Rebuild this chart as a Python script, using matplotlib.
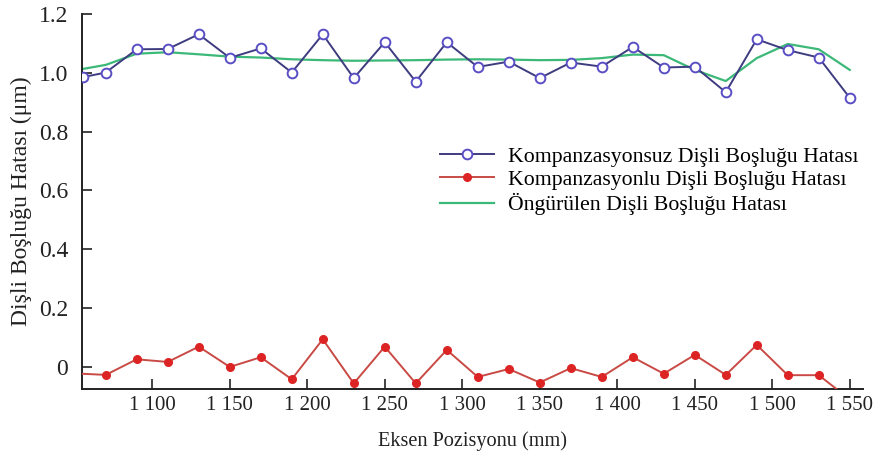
import numpy as np
import matplotlib
matplotlib.use("Agg")
import matplotlib.pyplot as plt

plt.rcParams['font.family'] = ['Liberation Serif', 'DejaVu Serif']
plt.rcParams['mathtext.fontset'] = 'stix'

# positions along the axis (mm)
x_pos = [1055, 1070, 1090, 1110, 1130, 1150, 1170, 1190, 1210, 1230, 1250, 1270, 1290,
         1310, 1330, 1350, 1370, 1390, 1410, 1430, 1450, 1470, 1490, 1510, 1530, 1550]
x_pos_comp = [1050] + x_pos[1:]

# uncompensated backlash error (um)
err_uncomp = [0.985, 1.001, 1.080, 1.081, 1.131, 1.051, 1.083, 1.001, 1.131, 0.982, 1.104, 0.970, 1.104,
              1.020, 1.038, 0.982, 1.035, 1.021, 1.088, 1.018, 1.021, 0.934, 1.114, 1.077, 1.052, 0.915]
# compensated backlash error (um)
err_comp = [-0.022, -0.027, 0.026, 0.017, 0.069, 0.000, 0.033, -0.042, 0.094, -0.056, 0.069, -0.056, 0.058,
            -0.034, -0.007, -0.053, -0.004, -0.034, 0.033, -0.023, 0.041, -0.027, 0.075, -0.028, -0.028, -0.110]
# predicted backlash error (um)
err_pred = [1.013, 1.027, 1.065, 1.070, 1.063, 1.055, 1.052, 1.046, 1.043, 1.041, 1.042, 1.043, 1.045,
            1.046, 1.045, 1.043, 1.044, 1.050, 1.062, 1.060, 1.010, 0.972, 1.050, 1.098, 1.080, 1.010]

xticks = [1100, 1150, 1200, 1250, 1300, 1350, 1400, 1450, 1500, 1550]
xtick_labels = ["1 100", "1 150", "1 200", "1 250", "1 300", "1 350", "1 400", "1 450", "1 500", "1 550"]
yticks = [0, 0.2, 0.4, 0.6, 0.8, 1.0, 1.2]
ytick_labels = ["0", "0.2", "0.4", "0.6", "0.8", "1.0", "1.2"]

fig = plt.figure(figsize=(8.84, 4.59), dpi=100)
ax = fig.add_axes([0.0928, 0.1525, 0.8832, 0.817])

ax.plot(x_pos, err_uncomp, '-', color="#3e3c80", lw=1.4, marker='o', ms=7,
        mfc='white', mec='#5a4ec4', mew=1.4, label="Kompanzasyonsuz Dişli Boşluğu Hatası", zorder=3)
ax.plot(x_pos_comp, err_comp, '-', color="#c94a44", lw=1.4, marker='o', ms=5.5,
        mfc='#dd2424', mec='#dd2424', label="Kompanzasyonlu Dişli Boşluğu Hatası", zorder=3)
ax.plot(x_pos, err_pred, '-', color="#3cb878", lw=1.6, label="Öngürülen Dişli Boşluğu Hatası", zorder=2)

ax.set_xlim(1054.7, 1558.4)
ax.set_ylim(-0.075, 1.2)
ax.set_xticks(xticks)
ax.set_xticklabels(xtick_labels)
ax.set_yticks(yticks)
ax.set_yticklabels(ytick_labels)
ax.tick_params(direction='in', length=7, width=1.2, colors='#222222')
ax.tick_params(axis='x', labelsize=15, pad=5)
ax.tick_params(axis='y', labelsize=17, pad=10)

for side in ['top', 'right']:
    ax.spines[side].set_visible(False)
for side in ['left', 'bottom']:
    ax.spines[side].set_linewidth(1.4)
    ax.spines[side].set_color('#222222')

ax.set_xlabel("Eksen Pozisyonu (mm)", fontsize=14.6, labelpad=12, color='#222222')
ax.set_ylabel("Dişli Boşluğu Hatası (μm)", fontsize=17, labelpad=5, color='#222222')

ax.legend(loc='upper left', bbox_to_anchor=(0.476, 0.724), bbox_transform=fig.transFigure,
          frameon=False, fontsize=15.7, handlelength=2.45, labelspacing=0.15, handletextpad=0.64)

fig.savefig("out.png", dpi=100)
